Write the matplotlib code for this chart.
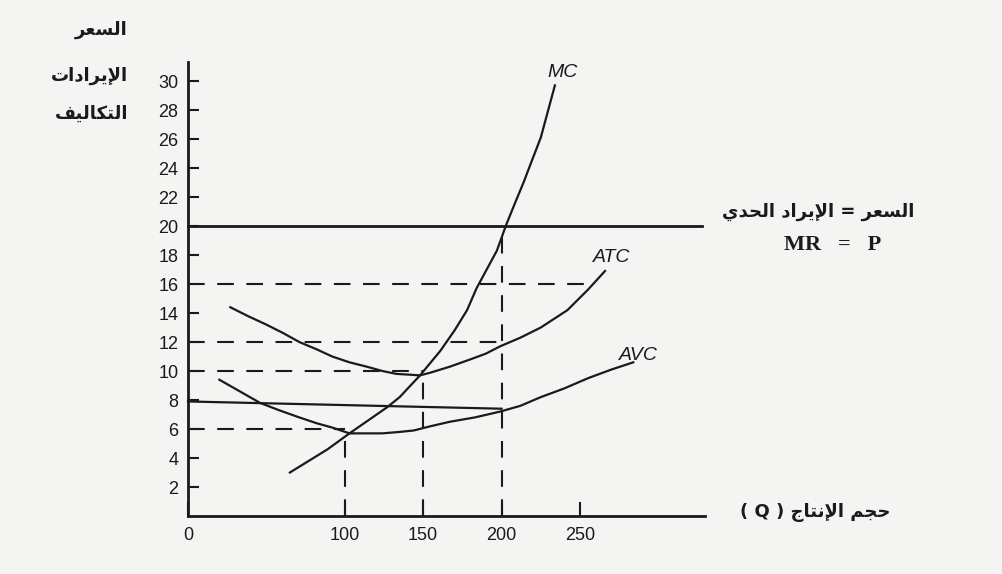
import matplotlib
matplotlib.use("Agg")
import matplotlib.pyplot as plt

# marginal cost
mc_q = [65, 89, 103, 115, 127, 135, 148, 161, 170, 178, 184, 190, 197, 203, 209, 214, 220, 225, 230, 234]
mc_p = [3.0, 4.6, 5.7, 6.6, 7.5, 8.2, 9.7, 11.4, 12.8, 14.2, 15.7, 16.9, 18.3, 20.1, 21.7, 23.0, 24.7, 26.1, 28.1, 29.7]
# average total cost
atc_q = [27, 38, 50, 61, 71, 82, 92, 103, 114, 124, 133, 141, 148, 155, 161, 167, 180, 190, 199, 212, 225, 242, 255, 266]
atc_p = [14.4, 13.8, 13.2, 12.6, 12.0, 11.5, 11.0, 10.6, 10.3, 10.0, 9.8, 9.75, 9.7, 9.9, 10.1, 10.3, 10.8, 11.2,
         11.7, 12.3, 13.0, 14.2, 15.6, 16.9]
# average variable cost
avc_q = [20, 33, 46, 58, 71, 82, 92, 103, 114, 124, 135, 144, 155, 167, 183, 199, 212, 225, 240, 255, 270, 284]
avc_p = [9.4, 8.6, 7.8, 7.3, 6.8, 6.4, 6.1, 5.7, 5.7, 5.7, 5.8, 5.9, 6.2, 6.5, 6.8, 7.2, 7.6, 8.2, 8.8, 9.5,
         10.1, 10.6]

price = 20
price_end = 328
afc_q = [0, 200]
afc_p = [7.9, 7.4]

# dashed guides: (level, where it stops on x)
h_guides = [(16, 254), (12, 200), (10, 150), (6, 100)]
v_guides = [(100, 6), (150, 10), (200, 20)]

yticks = list(range(2, 31, 2))
xticks = [0, 100, 150, 200, 250]

# --- arabic shaping (matplotlib has no shaping / bidi) ---
FORMS = {
    'ا': ('\uFE8D', '\uFE8E', None, None),
    'إ': ('\uFE87', '\uFE88', None, None),
    'د': ('\uFEA9', '\uFEAA', None, None),
    'ر': ('\uFEAD', '\uFEAE', None, None),
    'ت': ('\uFE95', '\uFE96', '\uFE97', '\uFE98'),
    'ج': ('\uFE9D', '\uFE9E', '\uFE9F', '\uFEA0'),
    'ح': ('\uFEA1', '\uFEA2', '\uFEA3', '\uFEA4'),
    'س': ('\uFEB1', '\uFEB2', '\uFEB3', '\uFEB4'),
    'ع': ('\uFEC9', '\uFECA', '\uFECB', '\uFECC'),
    'ف': ('\uFED1', '\uFED2', '\uFED3', '\uFED4'),
    'ك': ('\uFED9', '\uFEDA', '\uFEDB', '\uFEDC'),
    'ل': ('\uFEDD', '\uFEDE', '\uFEDF', '\uFEE0'),
    'م': ('\uFEE1', '\uFEE2', '\uFEE3', '\uFEE4'),
    'ن': ('\uFEE5', '\uFEE6', '\uFEE7', '\uFEE8'),
    'ي': ('\uFEF1', '\uFEF2', '\uFEF3', '\uFEF4'),
}
LAMALEF = {'ا': ('\uFEFB', '\uFEFC'), 'إ': ('\uFEF9', '\uFEFA')}


def ar(s):
    res = []
    n = len(s)
    i = 0
    while i < n:
        c = s[i]
        prev = s[i - 1] if i > 0 else None
        pj = prev in FORMS and FORMS[prev][2] is not None
        if c == 'ل' and i + 1 < n and s[i + 1] in LAMALEF:
            iso, fin = LAMALEF[s[i + 1]]
            res.append(fin if pj else iso)
            i += 2
            continue
        if c not in FORMS:
            res.append(c)
            i += 1
            continue
        nxt = s[i + 1] if i + 1 < n else None
        nj = nxt in FORMS and FORMS[c][2] is not None
        iso, fin, ini, med = FORMS[c]
        if pj and nj:
            res.append(med)
        elif pj:
            res.append(fin)
        elif nj:
            res.append(ini)
        else:
            res.append(iso)
        i += 1
    return ''.join(res)[::-1].translate(str.maketrans('()', ')('))


W, H = 1003, 574
fig = plt.figure(figsize=(W / 100, H / 100), dpi=100)
bg = '#f4f4f2'
fig.patch.set_facecolor(bg)
ax = fig.add_axes([0, 0, 1, 1])
ax.set_facecolor(bg)
ax.set_xlim(-119.9, 519.8)
ax.set_ylim(-4.0, 35.59)

lw = 1.6
k = '#1a1a1a'
ax.plot(mc_q, mc_p, color=k, lw=lw)
ax.plot(atc_q, atc_p, color=k, lw=lw)
ax.plot(avc_q, avc_p, color=k, lw=lw)
ax.plot([0, price_end], [price, price], color=k, lw=lw + 0.4)
ax.plot(afc_q, afc_p, color=k, lw=lw)

for lev, stop in h_guides:
    ax.plot([0, stop], [lev, lev], color=k, lw=1.5, dashes=(8, 6))
for q, top in v_guides:
    ax.plot([q, q], [0, top], color=k, lw=1.5, dashes=(8, 6))

# axes
for s in ['top', 'right']:
    ax.spines[s].set_visible(False)
ax.spines['left'].set_position(('data', 0))
ax.spines['bottom'].set_position(('data', 0))
ax.spines['left'].set_bounds(0, 31.3)
ax.spines['bottom'].set_bounds(0, 330)
ax.spines['left'].set_linewidth(2)
ax.spines['bottom'].set_linewidth(2)
ax.spines['left'].set_color(k)
ax.spines['bottom'].set_color(k)

ax.set_yticks(yticks)
ax.set_yticklabels([str(v) for v in yticks])
ax.set_xticks(xticks)
ax.set_xticklabels([str(v) for v in xticks])
ax.tick_params(axis='y', direction='in', length=8, width=1.5, pad=7, labelsize=13, colors=k)
ax.tick_params(axis='x', direction='in', length=10, width=1.5, pad=8, labelsize=13, colors=k)
for t in ax.get_xticklabels() + ax.get_yticklabels():
    t.set_fontfamily('Liberation Sans')

# curve names
ax.text(239, 30.6, 'MC', fontsize=14, style='italic', family='Liberation Sans', ha='center', va='center', color=k)
ax.text(270, 17.8, 'ATC', fontsize=14, style='italic', family='Liberation Sans', ha='center', va='center', color=k)
ax.text(287, 11.1, 'AVC', fontsize=14, style='italic', family='Liberation Sans', ha='center', va='center', color=k)

# arabic labels
af = dict(family='DejaVu Sans', fontweight='bold', color=k)
fig.text(128 / W, 1 - 30 / H, ar('السعر'), fontsize=13, ha='right', va='center', **af)
fig.text(128 / W, 1 - 76 / H, ar('الإيرادات'), fontsize=13, ha='right', va='center', **af)
fig.text(128 / W, 1 - 114 / H, ar('التكاليف'), fontsize=13, ha='right', va='center', **af)
fig.text(818 / W, 1 - 212 / H, ar('السعر = الإيراد الحدي'), fontsize=13, ha='center', va='center', **af)
fig.text(833 / W, 1 - 245 / H, 'MR   =   P', fontsize=16, ha='center', va='center',
         family='Liberation Serif', fontweight='bold', color=k)
fig.text(815 / W, 1 - 512 / H, ar('حجم الإنتاج ( Q )'), fontsize=13, ha='center', va='center', **af)

fig.savefig('out.png', dpi=100, facecolor=bg)
